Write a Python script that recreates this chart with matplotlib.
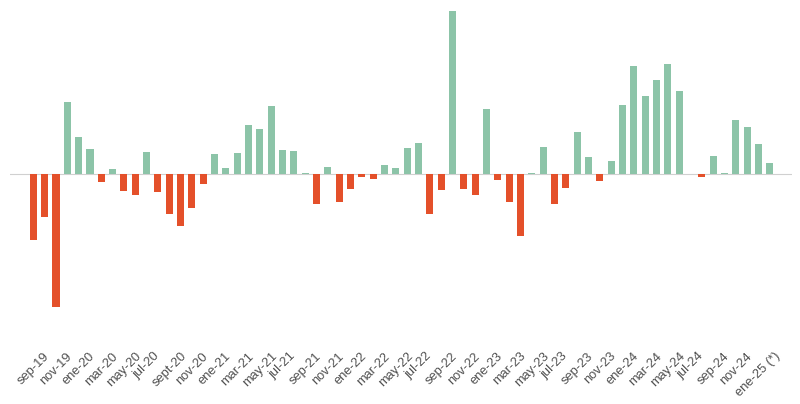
import matplotlib.pyplot as plt
import numpy as np

plt.rcParams['font.family'] = ['Liberation Sans', 'DejaVu Sans']

# monthly values, sep-19 .. feb-25
values = [-6.6, -4.3, -13.3, 7.2, 3.7, 2.5, -0.8, 0.5, -1.7, -2.1,
          2.2, -1.8, -4.0, -5.2, -3.4, -1.0, 2.0, 0.6, 2.1, 4.9,
          4.5, 6.8, 2.4, 2.3, 0.05, -3.0, 0.7, -2.8, -1.5, -0.3,
          -0.5, 0.9, 0.6, 2.6, 3.1, -4.0, -1.6, 16.3, -1.5, -2.1,
          6.5, -0.6, -2.8, -6.2, 0.1, 2.7, -3.0, -1.4, 4.2, 1.7,
          -0.7, 1.3, 6.9, 10.8, 7.8, 9.4, 11.0, 8.3, -0.05, -0.3,
          1.8, 0.1, 5.4, 4.7, 3.0, 1.1]

tick_labels = ['sep-19', 'nov-19', 'ene-20', 'mar-20', 'may-20', 'jul-20',
               'sept-20', 'nov-20', 'ene-21', 'mar-21', 'may-21', 'jul-21',
               'sep-21', 'nov-21', 'ene-22', 'mar-22', 'may-22', 'jul-22',
               'sep-22', 'nov-22', 'ene-23', 'mar-23', 'may-23', 'jul-23',
               'sep-23', 'nov-23', 'ene-24', 'mar-24', 'may-24', 'jul-24',
               'sep-24', 'nov-24', 'ene-25 (*)']

green = '#8cc4a8'
red = '#e4502a'

x = np.arange(len(values))
colors = [green if v >= 0 else red for v in values]

fig = plt.figure(figsize=(8, 4.04), dpi=100)
ax = fig.add_axes([10/800, (404-346)/404, 782/800, 338/404])

ax.axhline(0, color='#d0d0d0', lw=0.8, zorder=1)
ax.bar(x, values, width=0.62, color=colors, zorder=2)

ax.set_xlim(-2.06, 66.96)
ax.set_ylim(-17.2, 16.6)

ax.set_xticks(x[::2])
ax.set_xticklabels(tick_labels, rotation=45, fontsize=9.3, color='#505050')
ax.tick_params(axis='x', length=0, pad=3)
ax.set_yticks([])
for s in ax.spines.values():
    s.set_visible(False)

plt.savefig('out.png', dpi=100)
